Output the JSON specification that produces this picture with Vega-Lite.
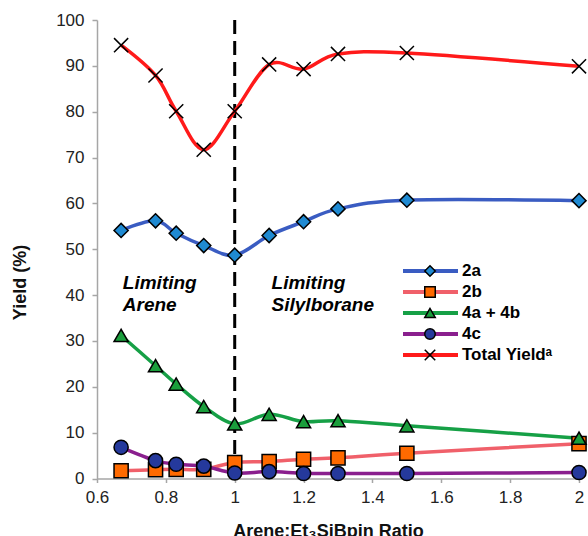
{
  "$schema": "https://vega.github.io/schema/vega-lite/v6.json",
  "width": 482,
  "height": 458.5,
  "autosize": "none",
  "padding": {"left": 97, "top": 20, "right": 9, "bottom": 57.5},
  "config": {
    "view": {"stroke": null},
    "font": "Liberation Sans",
    "axis": {"grid": false, "domainColor": "#a6a6a6", "domainWidth": 1.5, "tickColor": "#a6a6a6", "tickWidth": 1.5, "labelColor": "#222222", "labelFontSize": 17, "titleColor": "#111111", "titleFontSize": 18, "titleFontWeight": "bold"}
  },
  "datasets": {
    "yields": [
      {"ratio": 0.67, "series": "2a", "yield": 54.1},
      {"ratio": 0.77, "series": "2a", "yield": 56.2},
      {"ratio": 0.83, "series": "2a", "yield": 53.5},
      {"ratio": 0.91, "series": "2a", "yield": 50.8},
      {"ratio": 1.0, "series": "2a", "yield": 48.7},
      {"ratio": 1.1, "series": "2a", "yield": 53.0},
      {"ratio": 1.2, "series": "2a", "yield": 56.0},
      {"ratio": 1.3, "series": "2a", "yield": 58.8},
      {"ratio": 1.5, "series": "2a", "yield": 60.7},
      {"ratio": 2.0, "series": "2a", "yield": 60.6},
      {"ratio": 0.67, "series": "2b", "yield": 1.7},
      {"ratio": 0.77, "series": "2b", "yield": 1.9},
      {"ratio": 0.83, "series": "2b", "yield": 2.0},
      {"ratio": 0.91, "series": "2b", "yield": 2.0},
      {"ratio": 1.0, "series": "2b", "yield": 3.5},
      {"ratio": 1.1, "series": "2b", "yield": 3.7},
      {"ratio": 1.2, "series": "2b", "yield": 4.2},
      {"ratio": 1.3, "series": "2b", "yield": 4.5},
      {"ratio": 1.5, "series": "2b", "yield": 5.5},
      {"ratio": 2.0, "series": "2b", "yield": 7.6},
      {"ratio": 0.67, "series": "4a + 4b", "yield": 31.2},
      {"ratio": 0.77, "series": "4a + 4b", "yield": 24.6},
      {"ratio": 0.83, "series": "4a + 4b", "yield": 20.6},
      {"ratio": 0.91, "series": "4a + 4b", "yield": 15.7},
      {"ratio": 1.0, "series": "4a + 4b", "yield": 11.9},
      {"ratio": 1.1, "series": "4a + 4b", "yield": 14.0},
      {"ratio": 1.2, "series": "4a + 4b", "yield": 12.4},
      {"ratio": 1.3, "series": "4a + 4b", "yield": 12.6},
      {"ratio": 1.5, "series": "4a + 4b", "yield": 11.5},
      {"ratio": 2.0, "series": "4a + 4b", "yield": 8.8},
      {"ratio": 0.67, "series": "4c", "yield": 6.8},
      {"ratio": 0.77, "series": "4c", "yield": 3.9},
      {"ratio": 0.83, "series": "4c", "yield": 3.1},
      {"ratio": 0.91, "series": "4c", "yield": 2.7},
      {"ratio": 1.0, "series": "4c", "yield": 1.2},
      {"ratio": 1.1, "series": "4c", "yield": 1.5},
      {"ratio": 1.2, "series": "4c", "yield": 1.1},
      {"ratio": 1.3, "series": "4c", "yield": 1.1},
      {"ratio": 1.5, "series": "4c", "yield": 1.1},
      {"ratio": 2.0, "series": "4c", "yield": 1.3},
      {"ratio": 0.67, "series": "Total Yieldᵃ", "yield": 94.5},
      {"ratio": 0.77, "series": "Total Yieldᵃ", "yield": 87.9},
      {"ratio": 0.83, "series": "Total Yieldᵃ", "yield": 80.1},
      {"ratio": 0.91, "series": "Total Yieldᵃ", "yield": 71.7},
      {"ratio": 1.0, "series": "Total Yieldᵃ", "yield": 80.1},
      {"ratio": 1.1, "series": "Total Yieldᵃ", "yield": 90.3},
      {"ratio": 1.2, "series": "Total Yieldᵃ", "yield": 89.3},
      {"ratio": 1.3, "series": "Total Yieldᵃ", "yield": 92.6},
      {"ratio": 1.5, "series": "Total Yieldᵃ", "yield": 92.8},
      {"ratio": 2.0, "series": "Total Yieldᵃ", "yield": 89.9}
    ],
    "notes": [
      {"ratio": 0.675, "yield": 42.7, "label": "Limiting\nArene"},
      {"ratio": 1.107, "yield": 42.7, "label": "Limiting\nSilylborane"}
    ],
    "divider": [{"ratio": 1.0, "top": 100, "bottom": 0}]
  },
  "layer": [
    {
      "data": {"name": "divider"},
      "mark": {"type": "rule", "stroke": "black", "strokeWidth": 3, "strokeDash": [14, 7]},
      "encoding": {
        "x": {"field": "ratio", "type": "quantitative"},
        "y": {"field": "top", "type": "quantitative"},
        "y2": {"field": "bottom"}
      }
    },
    {
      "data": {"name": "yields"},
      "mark": {"type": "line", "interpolate": "cardinal", "strokeWidth": 3.5},
      "encoding": {
        "x": {"field": "ratio", "type": "quantitative", "scale": {"domain": [0.6, 2], "nice": false, "zero": false},
          "axis": {"title": "Arene:Et₃SiBpin Ratio", "values": [0.6, 0.8, 1, 1.2, 1.4, 1.6, 1.8, 2], "format": "~g", "labelFlush": false, "tickSize": 4, "labelPadding": 7, "titleX": 231, "titleY": 58, "titleBaseline": "alphabetic", "titleAnchor": null, "titleAlign": "center"}},
        "y": {"field": "yield", "type": "quantitative", "scale": {"domain": [0, 100], "nice": false},
          "axis": {"title": "Yield (%)", "values": [0, 10, 20, 30, 40, 50, 60, 70, 80, 90, 100], "tickSize": 5, "labelPadding": 8, "titleX": -77, "titleY": 262, "titleBaseline": "middle", "titleAlign": "center", "titleAngle": 270}},
        "stroke": {"field": "series", "type": "nominal",
          "scale": {"domain": ["2a", "2b", "4a + 4b", "4c", "Total Yieldᵃ"], "range": ["#3a5cc2", "#f0606a", "#16a046", "#8a1f8e", "#ff1a1a"]},
          "legend": {"title": null, "orient": "none", "legendX": 304, "legendY": 240.5, "padding": 0, "zindex": 0, "symbolType": "stroke", "symbolSize": 3025, "symbolStrokeWidth": 4, "clipHeight": 21, "rowPadding": 0, "labelOffset": 2, "labelFontSize": 17, "labelFontWeight": "bold", "labelColor": "black"}}
      }
    },
    {
      "data": {"name": "yields"},
      "mark": {"type": "point", "filled": true, "stroke": "black", "strokeWidth": 1.5, "size": 200, "opacity": 1},
      "encoding": {
        "x": {"field": "ratio", "type": "quantitative"},
        "y": {"field": "yield", "type": "quantitative"},
        "shape": {"field": "series", "type": "nominal",
          "scale": {"domain": ["2a", "2b", "4a + 4b", "4c", "Total Yieldᵃ"], "range": ["diamond", "square", "triangle-up", "circle", "M-1,-1L1,1M-1,1L1,-1"]},
          "legend": {"title": null, "orient": "none", "legendX": 324.5, "legendY": 240.5, "padding": 0, "zindex": 5, "symbolSize": 110, "clipHeight": 21, "rowPadding": 0, "labelFontSize": 17, "labelOpacity": 0,
            "encode": {"symbols": {"update": {"stroke": {"value": "black"}, "strokeWidth": {"value": 1.5}}}}}},
        "fill": {"field": "series", "type": "nominal",
          "scale": {"domain": ["2a", "2b", "4a + 4b", "4c", "Total Yieldᵃ"], "range": ["#1f8ad2", "#ff6a00", "#1a9e3c", "#25399c", "black"]},
          "legend": {"title": null, "orient": "none", "legendX": 324.5, "legendY": 240.5, "padding": 0, "zindex": 5, "symbolSize": 110, "clipHeight": 21, "rowPadding": 0, "labelFontSize": 17, "labelOpacity": 0,
            "encode": {"symbols": {"update": {"stroke": {"value": "black"}, "strokeWidth": {"value": 1.5}}}}}}
      }
    },
    {
      "data": {"name": "notes"},
      "mark": {"type": "text", "align": "left", "baseline": "middle", "fontSize": 19, "fontWeight": "bold", "fontStyle": "italic", "lineBreak": "\n", "lineHeight": 22, "color": "black"},
      "encoding": {
        "x": {"field": "ratio", "type": "quantitative"},
        "y": {"field": "yield", "type": "quantitative"},
        "text": {"field": "label"}
      }
    }
  ],
  "resolve": {"legend": {"stroke": "independent", "shape": "independent", "fill": "independent"}}
}
